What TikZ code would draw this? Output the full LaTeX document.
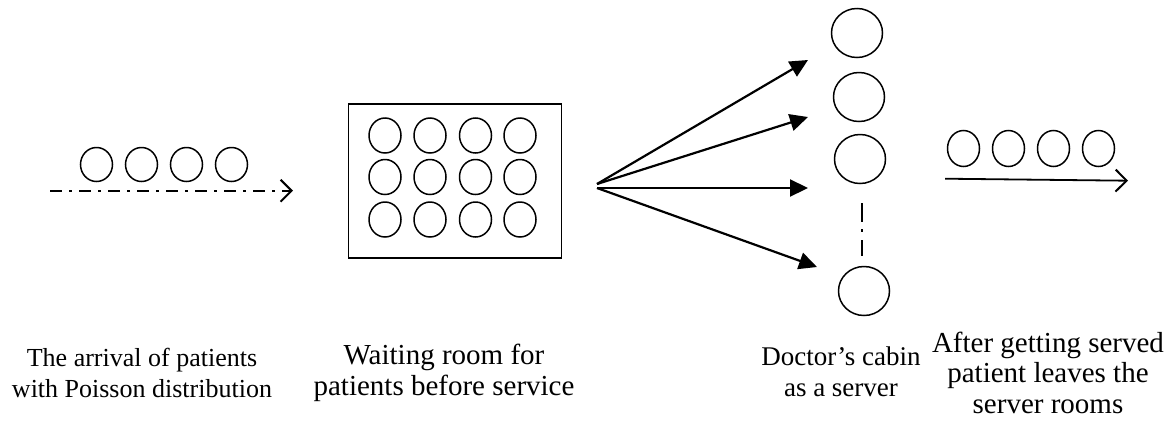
\documentclass[tikz,border=0pt]{standalone}
\usepackage{fontspec}
\setmainfont{Liberation Serif}
\usetikzlibrary{arrows.meta,shapes.geometric}
\begin{document}
\begin{tikzpicture}[x=1pt,y=-1pt,
  pat/.style={draw,ellipse,line width=1.5pt,minimum width=32pt,minimum height=34pt,inner sep=0pt},
  srv/.style={draw,ellipse,line width=1.5pt,minimum width=51pt,minimum height=49pt,inner sep=0pt},
  fan/.style={line width=2.2pt,-{Triangle[length=18pt,width=17pt]}},
  barb/.style={-{Straight Barb[length=11pt,width=22pt,line width=2pt]}},
  labA/.style={align=center,anchor=base,font=\fontsize{26}{31}\selectfont,inner sep=0pt},
  labB/.style={align=center,anchor=base,font=\fontsize{29}{30.5}\selectfont,inner sep=0pt}]
\useasboundingbox (0,0) rectangle (1173,421);
% arrivals
\foreach \i/\x in {1/96.5,2/141.5,3/186.5,4/231.5}
  \node[pat] (a\i) at (\x,164.5) {};
\coordinate (as) at (50,190.7);
\coordinate (ae) at (293,190.7);
\draw[line width=1.8pt,dash pattern=on 12pt off 7pt on 3pt off 7pt,barb] (as) -- (ae);
% waiting room
\node[draw,line width=1.8pt,minimum width=213pt,minimum height=154pt,inner sep=0pt] (box) at (455,181) {};
\foreach \r/\y in {1/135.5,2/177,3/219.5}
  \foreach \c/\x in {1/385,2/430,3/475.5,4/520}
    \node[pat,minimum height=35pt] (w\r\c) at (\x,\y) {};
% servers
\node[srv] (s1) at (857,33) {};
\node[srv] (s2) at (859,97) {};
\node[srv] (s3) at (860,159) {};
\node[srv] (s4) at (864,291) {};
\coordinate (fo) at (597,184);
\coordinate (fo2) at (597,188);
\coordinate (t1) at (808,60);
\coordinate (t2) at (808,117);
\coordinate (t3) at (808,188);
\coordinate (t4) at (817,267);
\draw[fan] (fo) -- (t1);
\draw[fan] (fo) -- (t2);
\draw[fan] (fo2) -- (t3);
\draw[fan] (fo2) -- (t4);
\coordinate (d1) at (862,203);
\coordinate (d2) at (862,256);
\draw[line width=1.8pt,dash pattern=on 19pt off 7pt on 3pt off 8pt] (d1) -- (d2);
% leaving
\foreach \i/\x in {1/963.5,2/1008.5,3/1053.5,4/1098.5}
  \node[pat,minimum height=36pt] (b\i) at (\x,148.5) {};
\coordinate (bs) at (945,178.7);
\coordinate (be) at (1128,180.7);
\draw[line width=1.8pt,barb] (bs) -- (be);
% labels
\node[labA] (l1) at (142,397) {The arrival of patients\\with Poisson distribution};
\node[labB] (l2) at (444,395) {Waiting room for\\patients before service};
\node[labB,font=\fontsize{27}{30.5}\selectfont] (l3) at (841,396) {Doctor’s cabin\\as a server};
\node[labB] (l4) at (1048,413) {After getting served\\patient leaves the\\server rooms};
\end{tikzpicture}
\end{document}
